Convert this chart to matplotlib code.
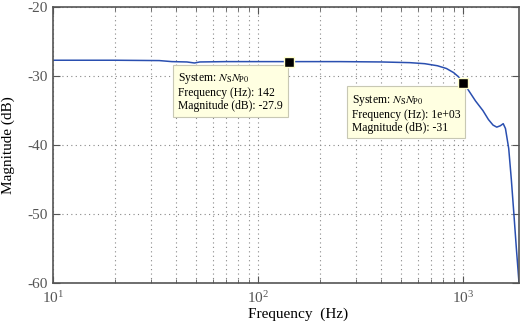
import matplotlib as mpl
mpl.use('Agg')
import matplotlib.pyplot as plt
from matplotlib.ticker import LogLocator, NullFormatter

plt.rcParams['font.family'] = ['Liberation Serif', 'DejaVu Serif']
plt.rcParams['mathtext.fontset'] = 'stix'
plt.rcParams['axes.unicode_minus'] = False

# frequency response
freq = [10, 20, 33, 38, 45, 49, 52, 70, 100, 142, 250, 400, 550, 650, 750,
        830, 900, 950, 1000, 1060, 1150, 1250, 1330, 1400, 1460, 1520, 1570,
        1610, 1670, 1720, 1770, 1820, 1875]
mag = [-27.7, -27.7, -27.75, -27.9, -27.95, -28.1, -27.95, -27.9, -27.9, -27.9,
       -27.9, -27.95, -28.05, -28.2, -28.5, -28.9, -29.5, -30.1, -31.0, -32.0,
       -33.6, -35.0, -36.3, -37.1, -37.4, -37.2, -36.9, -37.6, -40.5, -45.0,
       -50.0, -55.0, -60.0]

tip_freq = [142, 1000]
tip_mag = [-27.9, -31]
tip_text = ["System: $N_{\\mathrm{S}}N_{\\mathrm{P0}}$\nFrequency (Hz): 142\nMagnitude (dB): -27.9",
            "System: $N_{\\mathrm{S}}N_{\\mathrm{P0}}$\nFrequency (Hz): 1e+03\nMagnitude (dB): -31"]

gray = '#555555'
fig = plt.figure(figsize=(5.22, 3.24), dpi=100)
ax = fig.add_axes([0.1015, 0.1265, 0.8928, 0.8515])
ax.semilogx(freq, mag, color='#2a4fb0', lw=1.1)
ax.set_xlim(10, 1875)
ax.set_ylim(-60, -20)
ax.set_yticks([-60, -50, -40, -30, -20])
ax.xaxis.set_minor_locator(LogLocator(base=10, subs=range(2, 10)))
ax.xaxis.set_minor_formatter(NullFormatter())

ax.grid(True, which='major', axis='both', ls=(0, (1, 3)), color='#888888', lw=0.8)
ax.grid(True, which='minor', axis='x', ls=(0, (1, 3)), color='#888888', lw=0.8)
ax.tick_params(which='both', direction='in', top=True, right=True,
               colors=gray, labelsize=11, labelcolor=gray)
ax.tick_params(which='major', length=5)
ax.tick_params(which='minor', length=3)
ax.tick_params(axis='x', which='major', pad=5)
for s in ax.spines.values():
    s.set_color(gray)
    s.set_linewidth(1.2)

ax.set_xlabel('Frequency  (Hz)', fontsize=11)
ax.xaxis.set_label_coords(0.526, -0.09)
ax.set_ylabel('Magnitude (dB)', fontsize=11)
ax.yaxis.set_label_coords(-0.082, 0.5)

for f, m, t in zip(tip_freq, tip_mag, tip_text):
    ax.plot(f, m, 's', ms=7, mfc='black', mec='#ffffcc', mew=1, zorder=8)
    ax.annotate(t, (f, m), xytext=(-80, -7), textcoords='offset points',
                ha='left', va='top', fontsize=8.4, linespacing=1.1,
                bbox=dict(boxstyle='square,pad=0.4', fc='#ffffe1', ec='#c8c8b4', lw=0.8),
                zorder=6)

fig.savefig('out.png', dpi=100)
